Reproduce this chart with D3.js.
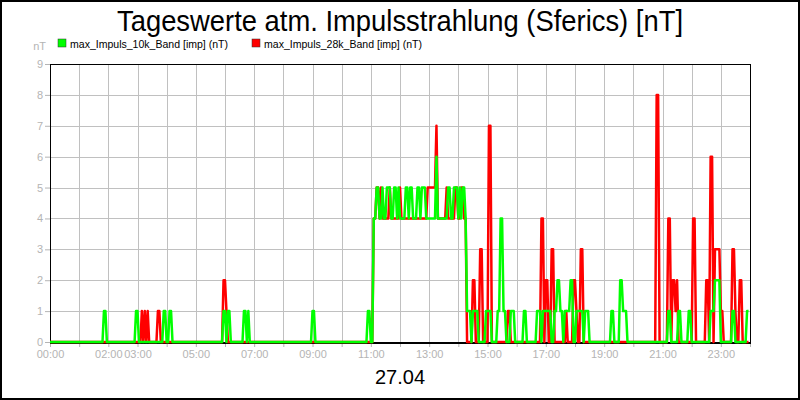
<!DOCTYPE html>
<html>
<head>
<meta charset="utf-8">
<script src="https://cdn.jsdelivr.net/npm/d3@7/dist/d3.min.js"></script>
<style>
  body { margin: 0; background: #fff; }
  svg { display: block; font-family: "Liberation Sans", Arial, sans-serif; }
</style>
</head>
<body>
<div id="chart"></div>
<script>
// one string per hour, one digit per 3 minutes (20 values per hour)
const stepMinutes = 3;

const green10k = [
  "00000000000000000000", // 00
  "00000000000000000110", // 01
  "00000000000000000001", // 02
  "10000000000000000011", // 03
  "00110000000000000000", // 04
  "00000000000000000001", // 05
  "10110000000001101000", // 06
  "00000000000000000000", // 07
  "00000000000000000000", // 08
  "11000000000000000000", // 09
  "00000000000000000011", // 10
  "00445544544555445545", // 11
  "44445545544455455544", // 12
  "44444644444445544555", // 13
  "45455411101111000001", // 14
  "11100001144110001110", // 15
  "00000110000000111011", // 16
  "11110011221101111220", // 17
  "01111101110000000000", // 18
  "00000110000221110000", // 19
  "00000000000000000000", // 20
  "00001100000110000011", // 21
  "00000000000001112222", // 22
  "00000000110000000011"  // 23
];

const red28k = [
  "00000000000000000000", // 00
  "00000000000000000000", // 01
  "00000000000000000000", // 02
  "00010101000000110000", // 03
  "00000000000000000000", // 04
  "00000000000000000002", // 05
  "21000000000000000000", // 06
  "00000000000000000000", // 07
  "00000000000000000000", // 08
  "00000000000000000000", // 09
  "00000000000000000000", // 10
  "00445545444445444444", // 11
  "54444444444444444445", // 12
  "55555744444454444455", // 13
  "44554400002200033000", // 14
  "07700000000000110000", // 15
  "00000000000000000440", // 16
  "22003300000000100002", // 17
  "21003300000000000000", // 18
  "00000000000000000000", // 19
  "00000000000000008800", // 20
  "00004402212000000000", // 21
  "04400000002206603333", // 22
  "11000000331002200000"  // 23
];

const yTicks = [0, 1, 2, 3, 4, 5, 6, 7, 8, 9];
const xTickLabels = ["00:00", "02:00", "03:00", "05:00", "07:00", "09:00", "11:00",
                     "13:00", "15:00", "17:00", "19:00", "21:00", "23:00"];
const seriesNames = ["max_Impuls_10k_Band [imp] (nT)", "max_Impuls_28k_Band [imp] (nT)"];

const width = 800, height = 400;
const plot = { left: 50, right: 750, top: 64, bottom: 342 };

const toValues = rows => rows.join("").split("").map(Number);
const greenData = toValues(green10k);
const redData = toValues(red28k);

const svg = d3.select("#chart").append("svg")
  .attr("width", width)
  .attr("height", height);

svg.append("rect")
  .attr("x", 0).attr("y", 0)
  .attr("width", width).attr("height", height)
  .attr("fill", "#fff");

const x = d3.scaleLinear().domain([0, 1440]).range([plot.left, plot.right]);
const y = d3.scaleLinear().domain([0, 9]).range([plot.bottom, plot.top]);

// grid
const hours = d3.range(0, 25).map(h => h * 60);
svg.append("g").selectAll("line")
  .data(hours.slice(1, -1))
  .join("line")
  .attr("x1", d => Math.round(x(d)) + 0.5).attr("x2", d => Math.round(x(d)) + 0.5)
  .attr("y1", plot.top).attr("y2", plot.bottom)
  .attr("stroke", "#c0c0c0");
svg.append("g").selectAll("line")
  .data(yTicks.slice(1, -1))
  .join("line")
  .attr("x1", plot.left).attr("x2", plot.right)
  .attr("y1", d => Math.round(y(d)) + 0.5).attr("y2", d => Math.round(y(d)) + 0.5)
  .attr("stroke", "#c0c0c0");

// axes
const fmtHour = m => String(m / 60).padStart(2, "0") + ":00";
const xAxis = svg.append("g")
  .attr("transform", `translate(0,${plot.bottom})`)
  .call(d3.axisBottom(x).tickValues(hours).tickSize(5).tickPadding(3)
    .tickFormat(m => xTickLabels.includes(fmtHour(m)) ? fmtHour(m) : ""));
const yAxis = svg.append("g")
  .attr("transform", `translate(${plot.left},0)`)
  .call(d3.axisLeft(y).tickValues(yTicks).tickSize(5).tickPadding(2));

[xAxis, yAxis].forEach(a => {
  a.select(".domain").remove();
  a.selectAll(".tick line").attr("stroke", "#b4b4b4");
  a.selectAll(".tick text")
    .attr("fill", "#b4b4b4")
    .attr("font-size", 11)
    .attr("font-family", "Liberation Sans, Arial, sans-serif");
});

// frame
svg.append("rect")
  .attr("x", plot.left + 0.5).attr("y", plot.top + 0.5)
  .attr("width", plot.right - plot.left).attr("height", plot.bottom - plot.top)
  .attr("fill", "none").attr("stroke", "#000");
svg.append("line")
  .attr("x1", plot.left).attr("x2", plot.right + 1)
  .attr("y1", plot.bottom + 1).attr("y2", plot.bottom + 1)
  .attr("stroke", "#000").attr("stroke-width", 2);

// lines
const line = d3.line()
  .x((d, i) => x(i * stepMinutes))
  .y(d => y(d));

svg.append("path")
  .datum(redData)
  .attr("d", line)
  .attr("fill", "none")
  .attr("stroke", "#ff0000")
  .attr("stroke-width", 2.5)
  .attr("stroke-linejoin", "round");

svg.append("path")
  .datum(greenData)
  .attr("d", line)
  .attr("fill", "none")
  .attr("stroke", "#00ff00")
  .attr("stroke-width", 2.5)
  .attr("stroke-linejoin", "round");

// title
svg.append("text")
  .attr("x", width / 2).attr("y", 31)
  .attr("text-anchor", "middle")
  .attr("font-size", 30)
  .attr("textLength", 566)
  .attr("lengthAdjust", "spacingAndGlyphs")
  .text("Tageswerte atm. Impulsstrahlung (Sferics) [nT]");

// unit
svg.append("text")
  .attr("x", 46).attr("y", 50)
  .attr("text-anchor", "end")
  .attr("font-size", 11)
  .attr("fill", "#b4b4b4")
  .text("nT");

// legend
const legend = svg.append("g").selectAll("g")
  .data(seriesNames)
  .join("g")
  .attr("transform", (d, i) => `translate(${i === 0 ? 58 : 252},39)`);
legend.append("rect")
  .attr("width", 8).attr("height", 8)
  .attr("fill", (d, i) => i === 0 ? "#00ff00" : "#ff0000")
  .attr("stroke", "#333").attr("stroke-width", 0.5);
legend.append("text")
  .attr("x", 12).attr("y", 8.5)
  .attr("font-size", 11)
  .attr("textLength", 158)
  .attr("lengthAdjust", "spacingAndGlyphs")
  .text(d => d);

// date
svg.append("text")
  .attr("x", width / 2).attr("y", 384)
  .attr("text-anchor", "middle")
  .attr("font-size", 20)
  .text("27.04");

// outer border
svg.append("rect")
  .attr("x", 1).attr("y", 1)
  .attr("width", width - 2).attr("height", height - 2)
  .attr("fill", "none").attr("stroke", "#000").attr("stroke-width", 2);
</script>
</body>
</html>
